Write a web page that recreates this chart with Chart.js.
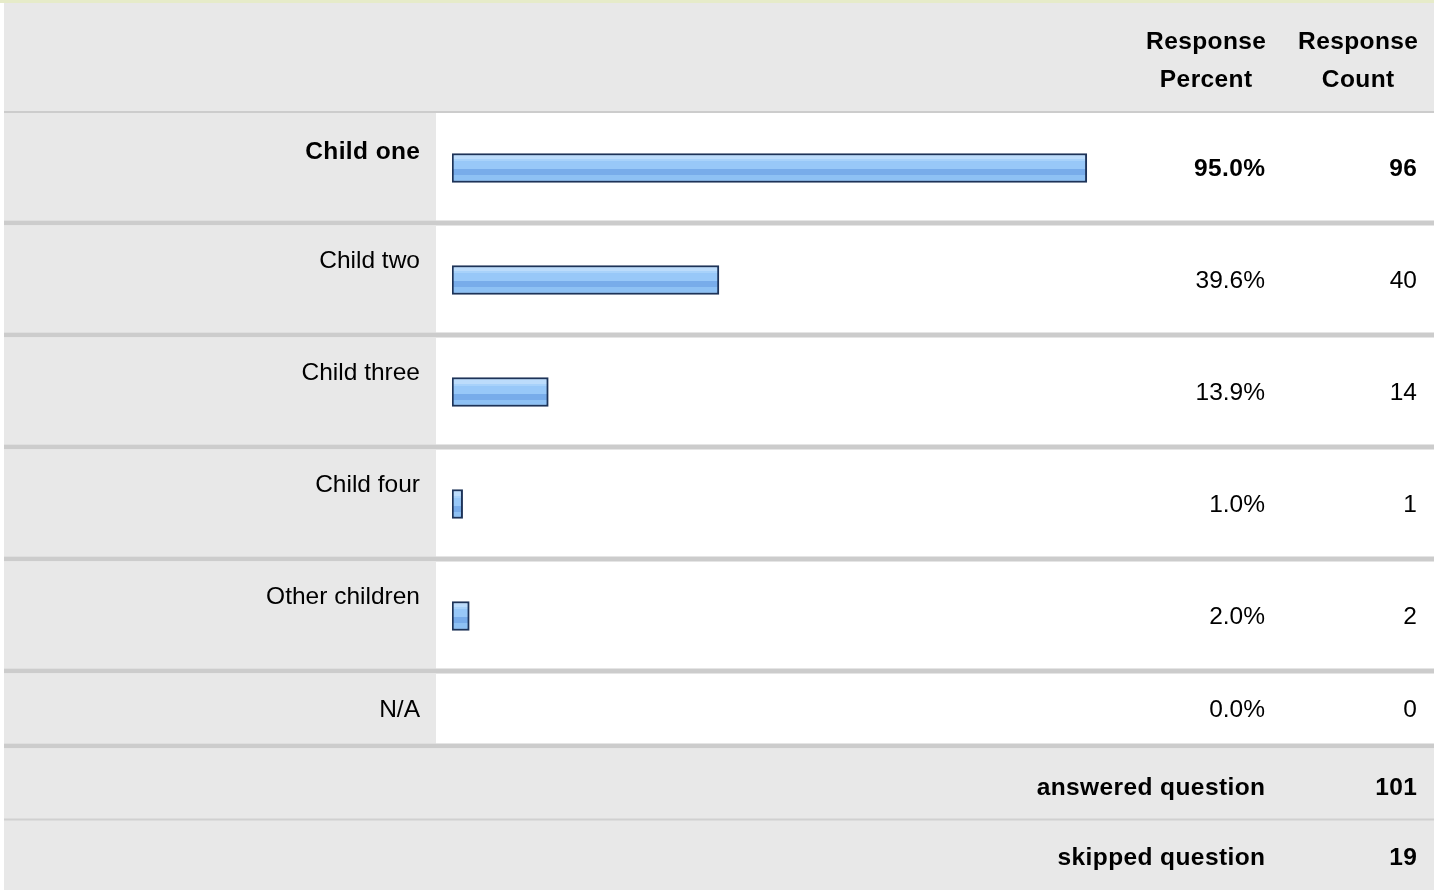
<!DOCTYPE html>
<html>
<head>
<meta charset="utf-8">
<script src="https://cdn.jsdelivr.net/npm/chart.js@4.4.1/dist/chart.umd.min.js"></script>
<style>
  html, body { margin: 0; padding: 0; background: #ffffff; }
  canvas { display: block; }
</style>
</head>
<body>
<canvas id="c" width="1440" height="890"></canvas>
<script>
// ---- data ----
const categories = ["Child one", "Child two", "Child three", "Child four", "Other children", "N/A"];
const responsePercent = [95.0, 39.6, 13.9, 1.0, 2.0, 0.0];
const responseCount = [96, 40, 14, 1, 2, 0];
const headerPercent = ["Response", "Percent"];
const headerCount = ["Response", "Count"];
const footerLabels = ["answered question", "skipped question"];
const footerValues = [101, 19];

const FONT = '"Liberation Sans", Arial, Helvetica, sans-serif';
const GRAY = '#e8e8e8';
const LINE = '#cccccc';
const maxIdx = responsePercent.indexOf(Math.max(...responsePercent));

function txt(ctx, s, x, y, bold, align) {
  ctx.font = (bold ? 'bold ' : '') + '24.5px ' + FONT;
  const ls = bold ? 0.4 : 0;
  ctx.letterSpacing = ls + 'px';
  ctx.textAlign = align || 'right';
  ctx.textBaseline = 'alphabetic';
  ctx.fillStyle = '#000000';
  let xx = x;
  if (ctx.textAlign === 'right') xx = x + ls;
  else if (ctx.textAlign === 'center') xx = x + ls / 2;
  ctx.fillText(s, xx, y);
}

function makeGrad(ctx, c) {
  const t = c - 14.5, h = 29;
  const g = ctx.createLinearGradient(0, t, 0, t + h);
  const stops = [
    [0, '#bcdcfb'], [6 / h, '#bcdcfb'],
    [6 / h, '#a8d2fa'], [8 / h, '#a8d2fa'],
    [8 / h, '#98c8f8'], [16 / h, '#98c8f8'],
    [16 / h, '#78acea'], [22 / h, '#78acea'],
    [22 / h, '#8ec1f4'], [1, '#8ec1f4']
  ];
  stops.forEach(s => g.addColorStop(s[0], s[1]));
  return g;
}

const tablePlugin = {
  id: 'tablePlugin',
  afterLayout(chart) {
    const ys = chart.scales.y;
    chart.$grads = categories.map((_, i) => {
      const c = ys.getPixelForValue(i);
      return isFinite(c) ? makeGrad(chart.ctx, c) : '#98c8f8';
    });
  },
  beforeDraw(chart) {
    const ctx = chart.ctx;
    const ys = chart.scales.y;
    ctx.save();
    ctx.fillStyle = '#ffffff';
    ctx.fillRect(0, 0, 1440, 890);
    ctx.fillStyle = '#e6ebc9';
    ctx.fillRect(0, 0, 1434, 3);
    ctx.fillStyle = GRAY;
    ctx.fillRect(4, 3, 1430, 108);
    ctx.fillStyle = LINE;
    ctx.fillRect(4, 111, 1430, 2);
    let top = 113;
    for (let i = 0; i < categories.length; i++) {
      let bottom;
      if (i < categories.length - 1) bottom = ys.getPixelForValue(i) + 52.5;
      else bottom = top + 70;
      ctx.fillStyle = GRAY;
      ctx.fillRect(4, top, 432, bottom - top);
      ctx.fillStyle = LINE;
      ctx.fillRect(4, bottom, 1430, 5);
      top = bottom + 5;
    }
    ctx.fillStyle = GRAY;
    ctx.fillRect(4, top, 1430, 890 - top);
    ctx.fillStyle = '#d0d0d0';
    ctx.fillRect(4, top + 70, 1430, 2);
    chart.$footerTop = top;
    ctx.restore();
  },
  afterDraw(chart) {
    const ctx = chart.ctx;
    const ys = chart.scales.y;
    ctx.save();
    txt(ctx, headerPercent[0], 1206, 49, true, 'center');
    txt(ctx, headerPercent[1], 1206, 87, true, 'center');
    txt(ctx, headerCount[0], 1358, 49, true, 'center');
    txt(ctx, headerCount[1], 1358, 87, true, 'center');
    for (let i = 0; i < categories.length; i++) {
      const bold = i === maxIdx;
      let c, labY;
      if (i < categories.length - 1) {
        c = ys.getPixelForValue(i);
        labY = c - (i === 0 ? 9 : 12);
      } else {
        c = ys.getPixelForValue(i - 1) + 52.5 + 5 + 35;
        labY = c + 8;
      }
      txt(ctx, categories[i], 420, labY, bold);
      txt(ctx, responsePercent[i].toFixed(1) + '%', 1265, c + 8, bold);
      txt(ctx, String(responseCount[i]), 1417, c + 8, bold);
    }
    const ft = chart.$footerTop;
    txt(ctx, footerLabels[0], 1265, ft + 46, true);
    txt(ctx, String(footerValues[0]), 1417, ft + 46, true);
    txt(ctx, footerLabels[1], 1265, ft + 116, true);
    txt(ctx, String(footerValues[1]), 1417, ft + 116, true);
    ctx.restore();
  }
};

function barFill(context) {
  const g = context.chart.$grads;
  if (!g || context.dataIndex === undefined) return '#98c8f8';
  return g[context.dataIndex] || '#98c8f8';
}

new Chart(document.getElementById('c'), {
  type: 'bar',
  data: {
    labels: categories,
    datasets: [{
      data: responsePercent.map(v => v > 0 ? v : null),
      base: -0.6,
      backgroundColor: barFill,
      borderColor: '#1d3358',
      borderWidth: 2,
      borderSkipped: false,
      barThickness: 29
    }]
  },
  options: {
    indexAxis: 'y',
    responsive: false,
    animation: false,
    events: [],
    layout: { padding: { left: 452, right: 320, top: 112, bottom: 106 } },
    scales: {
      x: { type: 'linear', min: -0.6, max: 100, display: false },
      y: { display: false }
    },
    plugins: {
      legend: { display: false },
      tooltip: { enabled: false },
      title: { display: false }
    }
  },
  plugins: [tablePlugin]
});
</script>
</body>
</html>
